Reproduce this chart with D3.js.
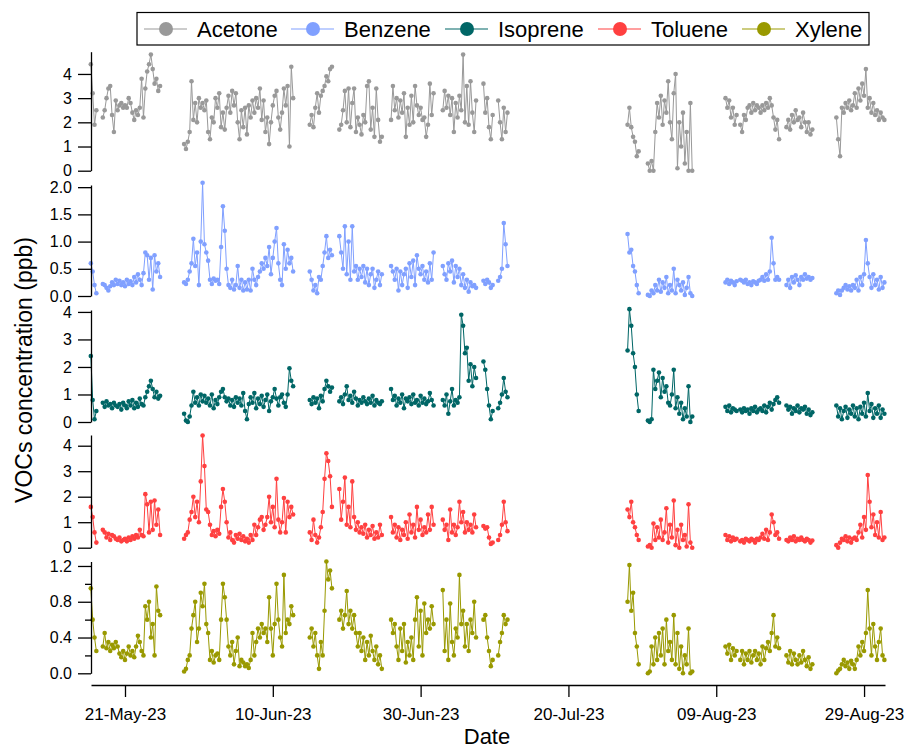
<!DOCTYPE html>
<html lang="en">
<head>
<meta charset="UTF-8">
<title>VOCs concentration</title>
<script src="https://cdn.jsdelivr.net/npm/d3@7"></script>
<style>
  body { margin: 0; background: #fff; }
  svg { font-family: "Liberation Sans", Arial, sans-serif; }
</style>
</head>
<body>
<script>
// sampling segments: start time (UTC), one value every 6 hours
const segStarts = [
  "2023-05-16T09:00Z", "2023-05-18T00:00Z", "2023-05-29T00:00Z", "2023-06-15T00:00Z",
  "2023-06-19T00:00Z", "2023-06-26T00:00Z", "2023-07-03T00:00Z", "2023-07-08T12:00Z",
  "2023-07-10T12:00Z", "2023-07-28T00:00Z", "2023-07-30T18:00Z", "2023-08-10T06:00Z",
  "2023-08-12T06:00Z", "2023-08-18T12:00Z", "2023-08-25T06:00Z"
];
const stepHours = 6;

const acetone = [
  [4.4,3.2,1.9,2.5],
  [2.2,2.5,3.0,3.4,3.5,2.3,1.6,2.9,2.5,2.7,2.8,2.6,2.7,2.6,3.0,2.8,2.4,2.1,2.5,2.3,2.6,3.8,2.2,3.4,4.1,4.4,4.8,4.2,3.6,3.8,3.3,3.5],
  [1.1,0.9,1.2,1.6,3.7,2.1,2.8,2.0,3.0,2.6,2.8,2.5,2.9,1.6,1.3,2.2,2.0,3.0,2.6,3.2,1.8,2.4,1.7,2.6,3.1,2.4,3.3,2.7,3.2,2.0,
   1.3,2.5,1.8,2.6,1.5,2.7,2.2,2.9,2.4,3.0,2.6,3.4,2.1,2.9,1.6,2.2,1.1,2.0,2.7,3.1,3.3,2.2,1.7,2.4,3.4,2.7,3.5,1.0,4.3,3.0],
  [1.9,2.3,1.8,2.6,3.2,2.4,3.1,3.3,3.5,3.9,3.7,4.2,4.3],
  [1.7,1.9,2.5,3.3,2.0,3.4,1.8,2.8,3.4,1.6,2.2,1.9,1.5,2.3,2.0,3.5,3.7,1.7,2.6,1.4,3.4,2.1,1.2,1.4],
  [2.1,3.5,2.5,3.0,2.2,2.9,2.4,3.2,1.4,2.6,1.9,3.1,2.0,3.5,2.7,2.3,2.6,2.1,2.2,1.4,1.9,3.6,2.3,3.2],
  [2.5,3.3,2.6,3.1,2.3,3.0,1.6,2.8,2.2,3.1,2.5,4.8,2.0,3.5,1.9,3.7,2.4,1.6,2.9],
  [3.6,2.4,3.0,1.8,1.3,2.3],
  [2.9,2.0,1.3,2.6,1.6,2.4],
  [1.9,2.6,1.8,1.4,1.2,0.6,0.8],
  [0.3,0.0,0.4,0.0,1.6,2.8,2.2,3.1,1.9,2.9,2.4,3.7,2.0,1.3,3.2,4.0,0.1,2.0,1.0,2.4,0.3,1.6,0.0,2.8,0.0],
  [3.0,2.6,2.9,2.2,2.6,1.9,2.3],
  [1.9,1.6,2.3,2.1,2.6,2.7,2.4,2.8,2.5,2.7,2.6,2.4,2.7,2.5,2.8,2.6,3.0,2.7,2.2,1.7,2.1,1.3],
  [1.8,2.1,1.7,2.3,2.0,2.5,2.1,2.2,1.8,2.4,2.0,1.6,2.0,1.5,1.7],
  [2.2,1.3,0.6,2.6,2.4,2.8,2.6,2.9,2.5,2.7,3.2,2.6,3.4,2.9,3.6,3.1,4.2,2.6,3.0,2.4,2.8,2.3,2.5,2.1,2.4,2.2,2.1]
];

const benzene = [
  [0.6,0.45,0.2,0.05],
  [0.22,0.2,0.15,0.1,0.18,0.25,0.2,0.3,0.22,0.28,0.2,0.25,0.18,0.3,0.22,0.27,0.2,0.35,0.25,0.4,0.3,0.2,0.42,0.8,0.75,0.3,0.7,0.12,0.75,0.45,0.6,0.35],
  [0.25,0.22,0.3,0.45,0.6,1.05,0.55,0.8,0.2,1.0,2.08,0.95,0.8,0.65,0.3,0.22,0.32,0.28,0.3,0.22,0.9,1.65,1.2,0.5,0.2,0.15,0.3,0.12,0.2,0.55,
   0.15,0.3,0.1,0.25,0.12,0.3,0.1,0.5,0.3,0.2,0.35,0.45,0.6,0.5,0.7,0.55,0.9,0.4,0.7,1.0,1.25,0.6,0.3,0.2,0.95,0.5,0.85,0.6,0.7,0.45],
  [0.45,0.3,0.1,0.2,0.05,0.35,0.3,0.55,0.8,1.1,0.7,0.85,0.75],
  [1.1,0.8,0.5,1.28,0.4,1.0,0.3,1.28,0.45,0.55,0.3,0.5,0.35,0.55,0.25,0.5,0.2,0.4,0.5,0.15,0.3,0.45,0.2,0.4],
  [0.55,0.45,0.3,0.5,0.1,0.45,0.2,0.4,0.5,0.15,0.6,0.35,0.65,0.2,0.75,0.5,0.4,0.55,0.3,0.45,0.25,0.6,0.3,0.8],
  [0.55,0.4,0.3,0.6,0.45,0.65,0.25,0.55,0.35,0.5,0.2,0.4,0.15,0.3,0.08,0.25,0.18,0.2,0.15],
  [0.28,0.22,0.3,0.25,0.15,0.2],
  [0.28,0.35,0.5,1.34,0.95,0.55],
  [1.14,0.8,0.85,0.55,0.45,0.2,0.05],
  [0.02,0.0,0.1,0.05,0.2,0.1,0.3,0.08,0.25,0.15,0.35,0.05,0.2,0.1,0.5,0.05,0.3,0.2,0.1,0.25,0.02,0.15,0.35,0.05,0.0],
  [0.25,0.3,0.22,0.28,0.25,0.2,0.27],
  [0.3,0.28,0.25,0.3,0.22,0.25,0.2,0.27,0.25,0.22,0.28,0.3,0.35,0.28,0.4,0.3,0.45,1.07,0.6,0.3,0.35,0.3],
  [0.2,0.3,0.15,0.35,0.25,0.38,0.3,0.2,0.35,0.3,0.4,0.32,0.35,0.3,0.33],
  [0.05,0.1,0.02,0.1,0.15,0.2,0.12,0.18,0.1,0.2,0.15,0.3,0.1,0.35,0.2,0.4,1.03,0.6,0.35,0.15,0.4,0.2,0.3,0.12,0.35,0.15,0.25]
];

const isoprene = [
  [2.4,0.8,0.1,0.4],
  [0.7,0.55,0.75,0.6,0.65,0.5,0.7,0.6,0.55,0.65,0.45,0.7,0.6,0.5,0.75,0.6,0.8,0.5,0.7,0.55,0.85,0.65,0.6,0.9,1.1,1.3,1.5,1.2,0.9,1.1,0.85,0.95],
  [0.3,0.05,0.0,0.2,0.6,1.1,0.7,0.9,0.6,1.0,0.75,0.95,0.7,0.85,0.6,1.0,0.5,0.8,0.65,0.9,1.1,1.2,0.9,0.75,0.85,0.6,0.8,0.55,0.9,0.7,
   0.85,0.6,1.05,0.4,0.1,0.65,0.9,0.7,1.05,0.5,0.85,0.65,0.95,0.55,0.8,1.0,0.4,0.75,0.9,1.2,0.85,0.6,0.9,1.0,0.7,0.55,1.0,1.95,1.5,1.3],
  [0.8,0.65,0.9,0.7,0.85,0.5,0.95,0.75,1.2,1.5,1.3,1.1,1.25],
  [0.75,0.9,0.65,1.0,1.3,0.8,0.95,0.7,1.1,0.85,0.6,0.8,0.7,0.9,0.75,0.65,0.85,0.7,0.95,0.6,0.8,0.7,0.65,0.75],
  [1.2,0.8,0.95,0.6,0.85,0.7,1.0,0.5,0.85,0.75,0.9,0.65,1.0,0.7,0.8,0.6,0.95,0.7,0.85,0.65,0.75,1.05,0.8,0.6],
  [0.8,0.6,1.0,0.3,0.75,1.2,0.6,0.8,0.7,0.9,3.9,3.5,2.5,2.7,1.5,2.1,1.3,2.0,1.6],
  [2.2,1.9,1.2,0.6,0.1,0.4],
  [0.5,0.7,1.0,1.6,1.1,0.9],
  [2.6,4.1,3.5,2.5,2.0,1.0,0.4],
  [0.05,0.0,0.1,1.9,1.2,1.5,1.8,0.9,1.6,1.1,1.3,0.7,0.6,1.0,1.9,0.5,0.9,0.3,0.7,0.1,0.5,0.2,1.3,0.0,0.2],
  [0.55,0.4,0.6,0.35,0.5,0.45,0.4],
  [0.45,0.35,0.5,0.4,0.45,0.3,0.5,0.4,0.55,0.35,0.45,0.5,0.4,0.6,0.35,0.55,0.7,0.45,0.65,0.8,0.9,0.7],
  [0.6,0.45,0.55,0.3,0.5,0.4,0.6,0.35,0.5,0.45,0.55,0.3,0.45,0.25,0.35],
  [0.6,0.2,0.5,0.1,0.4,0.55,0.15,0.45,0.3,0.6,0.2,0.5,0.1,0.55,0.3,0.7,0.2,1.05,0.4,0.65,0.15,0.5,0.3,0.6,0.15,0.45,0.3]
];

const toluene = [
  [1.6,1.2,0.6,0.2],
  [0.7,0.6,0.4,0.55,0.3,0.5,0.45,0.35,0.3,0.4,0.25,0.3,0.35,0.25,0.4,0.3,0.45,0.35,0.5,0.4,0.7,0.5,0.45,2.1,1.7,0.6,1.8,0.7,1.85,0.9,1.5,0.5],
  [0.35,0.5,0.6,1.1,1.4,2.0,1.2,1.8,1.0,2.6,4.4,3.2,1.5,1.4,0.9,0.5,0.65,0.45,0.7,0.55,1.6,2.3,1.8,1.0,0.4,0.6,0.3,0.2,0.5,0.35,
   0.55,0.3,0.45,0.25,0.35,0.2,0.5,0.3,0.9,0.5,0.8,1.1,1.2,0.7,0.9,1.2,2.0,1.0,1.6,0.8,2.7,1.1,0.6,1.0,1.95,0.6,1.8,1.2,1.6,1.3],
  [0.6,0.3,1.1,0.5,0.2,0.4,0.8,1.4,2.7,3.7,3.4,2.8,1.6],
  [2.3,1.1,1.8,2.75,0.9,1.6,0.8,2.6,1.2,0.7,1.0,0.6,0.8,0.55,0.9,0.4,0.7,0.5,0.85,0.35,0.6,0.4,0.9,0.5],
  [1.2,0.6,0.9,0.4,0.8,0.3,0.7,0.5,1.0,0.35,1.3,0.6,0.9,0.4,1.6,0.7,1.1,0.5,0.8,0.6,1.3,0.7,1.6,0.9],
  [1.1,0.7,0.9,0.3,1.5,0.6,0.9,0.5,0.8,1.8,1.0,1.4,0.6,1.0,0.7,0.9,0.6,1.3,0.8],
  [0.85,0.75,0.8,0.4,0.15,0.2],
  [0.3,0.5,0.9,1.8,1.0,0.65],
  [1.5,1.2,1.8,1.0,0.8,0.5,0.3],
  [0.05,0.1,0.0,0.95,0.3,0.8,0.4,1.1,0.3,0.6,1.55,0.2,0.9,0.4,1.85,0.1,0.7,0.0,0.9,0.3,0.5,0.05,1.7,0.2,0.0],
  [0.5,0.3,0.45,0.25,0.4,0.3,0.35],
  [0.25,0.3,0.2,0.35,0.3,0.25,0.35,0.3,0.2,0.35,0.3,0.4,0.55,0.35,0.7,0.3,0.6,1.3,1.0,0.5,0.6,0.35],
  [0.3,0.25,0.4,0.3,0.45,0.25,0.35,0.3,0.4,0.3,0.25,0.35,0.3,0.2,0.28],
  [0.1,0.0,0.2,0.35,0.3,0.45,0.25,0.4,0.2,0.35,0.4,0.3,0.6,0.9,0.4,1.2,0.7,2.85,1.8,0.8,1.3,0.5,1.0,0.4,1.4,0.3,0.4]
];

const xylene = [
  [0.95,0.6,0.4,0.25],
  [0.3,0.45,0.28,0.35,0.25,0.32,0.28,0.35,0.3,0.22,0.18,0.25,0.15,0.22,0.3,0.2,0.25,0.18,0.3,0.42,0.35,0.25,0.2,0.75,0.6,0.8,0.4,0.55,0.2,0.97,0.7,0.65],
  [0.02,0.05,0.15,0.2,0.5,0.65,0.8,0.35,0.5,0.9,0.75,1.0,0.55,0.45,0.15,0.25,0.12,0.2,0.22,0.15,0.6,1.0,0.85,0.6,0.3,0.2,0.35,0.1,0.25,0.4,
   0.08,0.15,0.12,0.08,0.1,0.06,0.15,0.45,0.2,0.35,0.5,0.4,0.55,0.45,0.5,0.35,0.85,0.5,0.2,0.55,1.0,0.6,0.4,0.3,1.1,0.45,0.6,0.55,0.75,0.65],
  [0.4,0.5,0.3,0.45,0.2,0.05,0.35,0.2,0.7,1.25,1.05,1.15,0.95],
  [0.6,0.7,0.5,0.65,0.92,0.55,0.7,0.5,0.65,0.45,0.3,0.45,0.25,0.4,0.15,0.35,0.2,0.42,0.25,0.15,0.3,0.1,0.2,0.05],
  [0.6,0.45,0.55,0.3,0.15,0.5,0.25,0.55,0.12,0.35,0.2,0.4,0.15,0.6,0.85,0.3,0.7,0.2,0.78,0.45,0.6,0.5,0.75,0.55],
  [0.93,0.25,0.6,0.15,0.78,0.35,0.2,0.5,0.4,1.1,0.55,0.7,0.3,0.55,0.25,0.6,0.45,0.8,0.4],
  [0.6,0.65,0.4,0.25,0.08,0.15],
  [0.2,0.35,0.45,0.65,0.55,0.6],
  [0.8,1.21,0.7,0.9,0.45,0.3,0.1],
  [0.0,0.02,0.3,0.1,0.4,0.15,0.45,0.2,0.5,0.1,0.6,0.25,0.35,0.15,0.65,0.1,0.45,0.05,0.3,0.0,0.2,0.1,0.5,0.0,0.02],
  [0.3,0.22,0.32,0.15,0.28,0.2,0.25],
  [0.15,0.25,0.1,0.22,0.15,0.25,0.12,0.2,0.25,0.15,0.22,0.1,0.3,0.15,0.28,0.35,0.25,0.45,0.65,0.3,0.4,0.28],
  [0.2,0.12,0.25,0.1,0.22,0.15,0.1,0.2,0.12,0.25,0.15,0.08,0.18,0.05,0.1],
  [0.0,0.03,0.05,0.1,0.15,0.08,0.12,0.05,0.14,0.1,0.05,0.15,0.3,0.2,0.35,0.25,0.45,0.93,0.5,0.2,0.55,0.3,0.15,0.35,0.5,0.2,0.15]
];

// axis ticks
const dateTicks = ["2023-05-21", "2023-06-10", "2023-06-30", "2023-07-20", "2023-08-09", "2023-08-29"];
const ticksAcetone = [0, 1, 2, 3, 4];
const ticksBenzene = [0, 0.5, 1, 1.5, 2];
const ticksIsoprene = [0, 1, 2, 3, 4];
const ticksToluene = [0, 1, 2, 3, 4];
const ticksXylene = [0, 0.4, 0.8, 1.2];
const minorXylene = [0.2, 0.6, 1.0];

const width = 907, height = 749;

const svg = d3.select("body")
  .append("svg")
    .attr("width", width)
    .attr("height", height);

svg.append("rect").attr("width", width).attr("height", height).attr("fill", "#fff");

const x = d3.scaleUtc()
  .domain([new Date("2023-05-16T09:36Z"), new Date("2023-08-31T20:00Z")])
  .range([91, 885]);

const panels = [
  { name: "Acetone",  data: acetone,  color: "#999999", max: 4.92, y0: 170.7, y1: 51.7,  ticks: ticksAcetone,  fmt: d3.format("d") },
  { name: "Benzene",  data: benzene,  color: "#80a0ff", max: 2.04, y0: 296,   y1: 185,   ticks: ticksBenzene,  fmt: d3.format(".1f") },
  { name: "Isoprene", data: isoprene, color: "#006666", max: 4.07, y0: 422,   y1: 310,   ticks: ticksIsoprene, fmt: d3.format("d") },
  { name: "Toluene",  data: toluene,  color: "#ff4040", max: 4.42, y0: 547.7, y1: 435,   ticks: ticksToluene,  fmt: d3.format("d") },
  { name: "Xylene",   data: xylene,   color: "#999900", max: 1.25, y0: 673.3, y1: 561.5, ticks: ticksXylene,   fmt: d3.format(".1f"), minor: minorXylene }
];

// turn each segment into dated points
function toPoints(segments) {
  return segments.map((vals, k) => {
    const t0 = new Date(segStarts[k]).getTime();
    return vals.map((v, i) => ({ t: new Date(t0 + i * stepHours * 3600e3), v: v }));
  });
}

panels.forEach(p => {
  const y = d3.scaleLinear().domain([0, p.max]).range([p.y0, p.y1]);
  const g = svg.append("g");

  const line = d3.line().x(d => x(d.t)).y(d => y(d.v));
  const segs = toPoints(p.data);

  g.selectAll("path.series")
    .data(segs)
    .enter()
    .append("path")
      .attr("class", "series")
      .attr("d", line)
      .attr("fill", "none")
      .attr("stroke", p.color)
      .attr("stroke-width", 1);

  g.selectAll("circle")
    .data(segs.flat())
    .enter()
    .append("circle")
      .attr("cx", d => x(d.t))
      .attr("cy", d => y(d.v))
      .attr("r", 2.3)
      .attr("fill", p.color);

  // y axis
  const ax = svg.append("g")
    .attr("transform", "translate(91,0)")
    .call(d3.axisLeft(y).tickValues(p.ticks).tickFormat(p.fmt).tickSize(13).tickSizeOuter(0).tickPadding(6));
  ax.select(".domain").attr("stroke", "#000").attr("stroke-width", 1.3);
  ax.selectAll(".tick line").attr("stroke", "#000").attr("stroke-width", 1.3);
  ax.selectAll("text").style("font-size", "16px").attr("fill", "#000");

  if (p.minor) {
    const mx = svg.append("g")
      .attr("transform", "translate(91,0)")
      .call(d3.axisLeft(y).tickValues(p.minor).tickFormat("").tickSize(6).tickSizeOuter(0));
    mx.select(".domain").remove();
    mx.selectAll(".tick line").attr("stroke", "#000").attr("stroke-width", 1.3);
  }
});

// x axis
const xa = svg.append("g")
  .attr("transform", "translate(0,685)")
  .call(d3.axisBottom(x)
    .tickValues(dateTicks.map(s => new Date(s + "T00:00Z")))
    .tickFormat(d3.utcFormat("%d-%b-%y"))
    .tickSize(12)
    .tickSizeOuter(0)
    .tickPadding(11));
xa.select(".domain").attr("stroke", "#000").attr("stroke-width", 1.3);
xa.selectAll(".tick line").attr("stroke", "#000").attr("stroke-width", 1.3);
xa.selectAll("text").style("font-size", "17px").attr("fill", "#000");

// axis titles
svg.append("text")
  .attr("x", 487)
  .attr("y", 744)
  .attr("text-anchor", "middle")
  .style("font-size", "22px")
  .text("Date");

svg.append("text")
  .attr("transform", "translate(32,370) rotate(-90)")
  .attr("text-anchor", "middle")
  .style("font-size", "23px")
  .text("VOCs concentration (ppb)");

// legend
const legend = svg.append("g");
legend.append("rect")
  .attr("x", 137)
  .attr("y", 12.5)
  .attr("width", 732)
  .attr("height", 32.5)
  .attr("fill", "#fff")
  .attr("stroke", "#000")
  .attr("stroke-width", 1.2);

const legendX = [144, 291, 445, 598, 742];
panels.forEach((p, i) => {
  const lg = legend.append("g").attr("transform", `translate(${legendX[i]},29)`);
  lg.append("line")
    .attr("x1", 0).attr("x2", 43)
    .attr("stroke", p.color).attr("stroke-width", 1.2);
  lg.append("circle")
    .attr("cx", 22).attr("r", 7)
    .attr("fill", p.color);
  lg.append("text")
    .attr("x", 53)
    .attr("y", 7.5)
    .style("font-size", "22px")
    .text(p.name);
});
</script>
</body>
</html>
